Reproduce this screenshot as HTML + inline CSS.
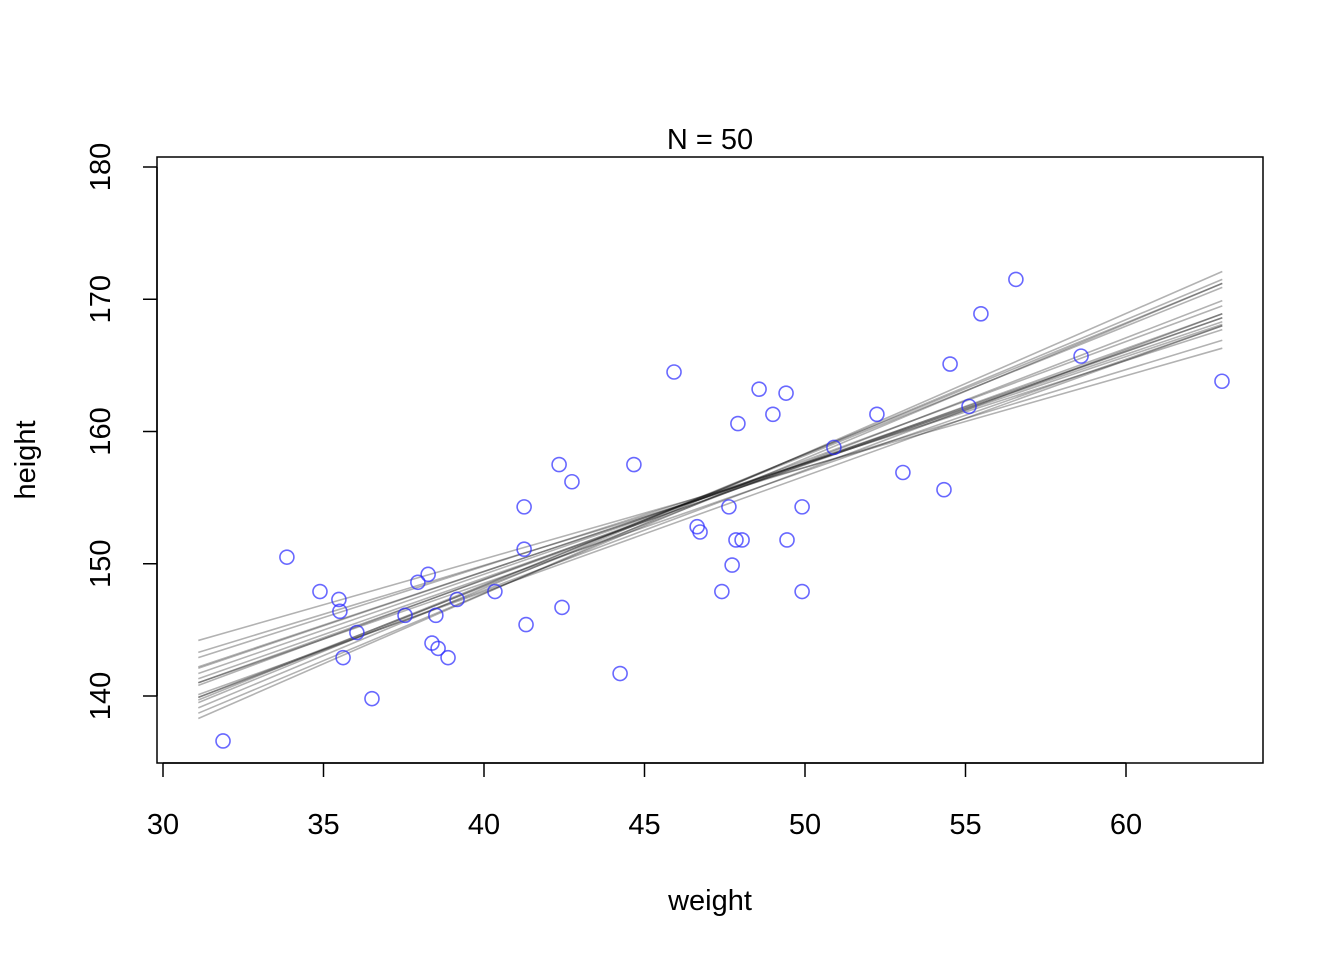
<!DOCTYPE html>
<html><head><meta charset="utf-8"><style>
html,body{margin:0;padding:0;background:#fff;}
svg{display:block;font-family:"Liberation Sans",Arial,sans-serif;}
</style></head><body>
<svg id="chart" width="1344" height="960" viewBox="0 0 1344 960">
<rect x="157" y="157" width="1106" height="606" fill="none" stroke="#000" stroke-width="1.5"/>
<text x="710" y="149" font-size="29" text-anchor="middle">N = 50</text>
<text x="710" y="910" font-size="29" text-anchor="middle">weight</text>
<text transform="translate(35,460) rotate(-90)" font-size="29" text-anchor="middle">height</text>
<g id="lines"></g>
<g id="pts"></g>
<g id="axes"></g>
</svg>
<script>
const weights=[31.87,33.86,34.89,35.48,35.51,35.61,36.04,36.51,37.54,37.94,38.26,38.38,38.50,38.57,38.88,39.16,40.34,41.25,41.25,41.31,42.34,42.43,42.74,44.24,44.67,45.92,46.64,46.73,47.41,47.63,47.73,47.85,47.91,48.04,48.57,49.00,49.41,49.44,49.91,49.91,50.90,52.24,53.05,54.33,54.52,55.11,55.48,56.57,58.60,62.99];
const heights=[136.6,150.5,147.9,147.3,146.4,142.9,144.8,139.8,146.1,148.6,149.2,144.0,146.1,143.6,142.9,147.3,147.9,154.3,151.1,145.4,157.5,146.7,156.2,141.7,157.5,164.5,152.8,152.4,147.9,154.3,149.9,151.8,160.6,151.8,163.2,161.3,162.9,151.8,154.3,147.9,158.8,161.3,156.9,155.6,165.1,161.9,168.9,171.5,165.7,163.8];
const lineX0=31.1, lineX1=63.0;
const lineLeft=[144.2,143.3,142.9,142.2,142.1,141.7,141.3,141.0,141.0,140.8,140.1,139.9,139.9,139.7,139.5,139.1,138.7,138.3];
const lineRight=[166.3,166.9,167.7,168.1,168.3,168.6,168.6,168.9,168.0,169.5,168.0,168.9,169.9,170.9,171.2,171.5,171.2,172.1];
const xTicks=[30,35,40,45,50,55,60];
const yTicks=[140,150,160,170,180];
const X=v=>163+(v-30)*(1126-163)/30;
const Y=v=>167+(180-v)*(696-167)/40;
const NS="http://www.w3.org/2000/svg";
function mk(t,a,p){const e=document.createElementNS(NS,t);for(const k in a)e.setAttribute(k,a[k]);p.appendChild(e);return e;}
const lg=document.getElementById('lines');
lineLeft.forEach((l,i)=>{
  const e=mk('line',{x1:X(lineX0),y1:Y(l),x2:X(lineX1),y2:Y(lineRight[i]),stroke:'rgba(0,0,0,0.3)','stroke-width':1.6},lg);
  
  
});
const pg=document.getElementById('pts');
weights.forEach((w,i)=>{
  const e=mk('circle',{cx:X(w),cy:Y(heights[i]),r:7,fill:'none',stroke:'rgba(40,40,255,0.7)','stroke-width':1.6},pg);
  
  
});
const ag=document.getElementById('axes');
mk('line',{x1:X(30),y1:763,x2:X(60),y2:763,stroke:'#000','stroke-width':1.5},ag);
xTicks.forEach(t=>{
  mk('line',{x1:X(t),y1:763,x2:X(t),y2:777,stroke:'#000','stroke-width':1.5},ag);
  const e=mk('text',{x:X(t),y:834,'font-size':29,'text-anchor':'middle'},ag);
  e.textContent=t;
  
  
});
mk('line',{x1:157,y1:Y(140),x2:157,y2:Y(180),stroke:'#000','stroke-width':1.5},ag);
yTicks.forEach(t=>{
  mk('line',{x1:143,y1:Y(t),x2:157,y2:Y(t),stroke:'#000','stroke-width':1.5},ag);
  const e=mk('text',{transform:`translate(110,${Y(t)}) rotate(-90)`,'font-size':29,'text-anchor':'middle'},ag);
  e.textContent=t;
  
  
});
</script>
</body></html>
